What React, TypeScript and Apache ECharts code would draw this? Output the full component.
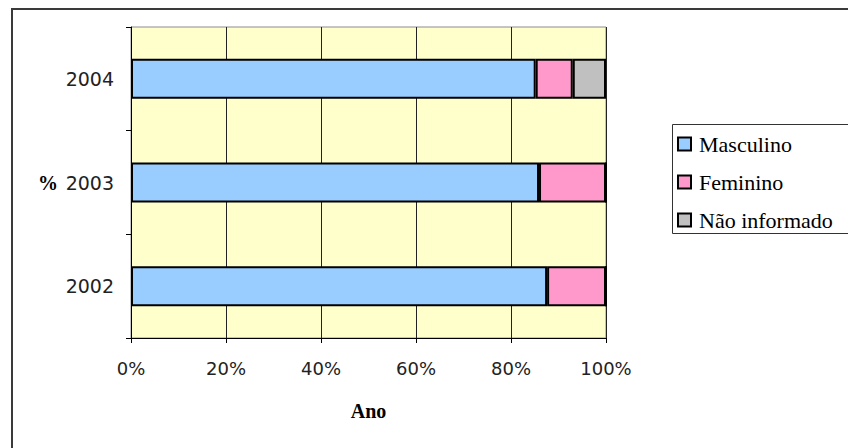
import React, { useEffect, useRef } from "react";
import * as echarts from "echarts";

const categories = ["2002", "2003", "2004"];
const masculino = [87.6, 85.9, 85.2];
const feminino = [12.4, 14.1, 7.8];
const naoInformado = [0, 0, 7.0];
const xTicks = [0, 20, 40, 60, 80, 100];
const legendNames = ["Masculino", "Feminino", "Não informado"];
const colors = ["#99CCFF", "#FF99CC", "#C0C0C0"];

const SERIF = "Liberation Serif";

export default function App() {
  const ref = useRef<HTMLDivElement>(null);
  useEffect(() => {
    if (!ref.current) return;
    const chart = echarts.init(ref.current, null, { renderer: "svg" });
    const barStyle = (color: string) => ({
      color,
      borderColor: "#000",
      borderWidth: 2,
    });
    const seriesData = [masculino, feminino, naoInformado];

    const legendX = 672;
    const legendY = 124;
    const firstCenter = 144;
    const step = 38;
    const legendItems: any[] = [];
    legendNames.forEach((name, i) => {
      const cy = firstCenter + i * step;
      legendItems.push({
        type: "rect",
        shape: { x: legendX + 6, y: cy - 6.5, width: 13, height: 13 },
        style: { fill: colors[i], stroke: "#000", lineWidth: 2 },
        silent: true,
      });
      legendItems.push({
        type: "text",
        x: legendX + 27,
        y: cy,
        style: {
          text: name,
          fontFamily: SERIF,
          fontSize: 22,
          fill: "#000",
          verticalAlign: "middle",
          align: "left",
        },
        silent: true,
      });
    });

    chart.setOption({
      animation: false,
      backgroundColor: "#fff",
      grid: {
        left: 131,
        top: 27,
        width: 475,
        height: 311,
        show: true,
        backgroundColor: "#FFFFCC",
        borderColor: "#8c8c8c",
        borderWidth: 1,
      },
      xAxis: {
        type: "value",
        min: xTicks[0],
        max: xTicks[xTicks.length - 1],
        interval: 20,
        name: "Ano",
        nameLocation: "middle",
        nameGap: 63,
        nameTextStyle: {
          fontFamily: SERIF,
          fontWeight: "bold",
          fontSize: 20,
          color: "#000",
        },
        axisLine: { show: true, lineStyle: { color: "#000", width: 1 } },
        axisTick: { show: true, length: 5, lineStyle: { color: "#000" } },
        axisLabel: {
          formatter: "{value}%",
          margin: 21,
          fontFamily: "DejaVu Sans",
          fontSize: 18,
          color: "#222",
        },
        splitLine: { show: true, lineStyle: { color: "#222", width: 1 } },
      },
      yAxis: {
        type: "category",
        data: categories,
        axisLine: { show: true, lineStyle: { color: "#000", width: 1 } },
        axisTick: { show: true, length: 5, lineStyle: { color: "#000" } },
        axisLabel: {
          margin: 17,
          fontFamily: "DejaVu Sans",
          fontSize: 19,
          color: "#222",
        },
        splitLine: { show: false },
      },
      legend: { show: false },
      series: legendNames.map((name, i) => ({
        name,
        type: "bar",
        stack: "total",
        barWidth: 40,
        data: seriesData[i],
        itemStyle: barStyle(colors[i]),
      })),
      graphic: [
        {
          type: "rect",
          shape: { x: 12, y: 9, width: 1000, height: 1000 },
          style: { fill: "none", stroke: "#3a3a3a", lineWidth: 2 },
          silent: true,
        },
        {
          type: "text",
          x: 38,
          y: 183,
          style: {
            text: "%",
            fontFamily: SERIF,
            fontWeight: "bold",
            fontSize: 20,
            fill: "#000",
            verticalAlign: "middle",
            align: "left",
          },
          silent: true,
        },
        {
          type: "rect",
          shape: { x: legendX + 0.5, y: legendY + 0.5, width: 400, height: 109 },
          style: { fill: "#fff", stroke: "#333", lineWidth: 1 },
          silent: true,
        },
        ...legendItems,
      ],
    });
    return () => chart.dispose();
  }, []);
  return (
    <div
      ref={ref}
      style={{ position: "fixed", left: 0, top: 0, width: 848, height: 448 }}
    />
  );
}
